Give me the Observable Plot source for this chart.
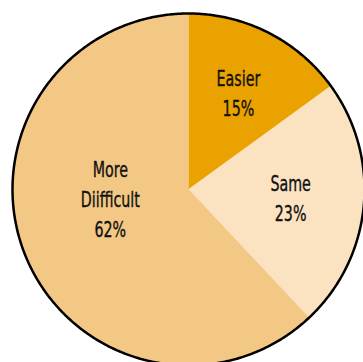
<!DOCTYPE html>
<html>
<head>
<meta charset="utf-8">
<script src="https://cdn.jsdelivr.net/npm/d3@7"></script>
<script src="https://cdn.jsdelivr.net/npm/@observablehq/plot@0.6"></script>
<style>
  html, body { margin: 0; padding: 0; background: #fff; }
  svg { display: block; }
</style>
</head>
<body>
<div id="chart"></div>
<script>
// Data
const categories = ["Easier", "Same", "More\nDiifficult"];
const keys = ["Easier", "Same", "More Difficult"];
const values = [15, 23, 62];
const colors = ["#E9A200", "#FBE3C2", "#F3C784"];

// Layout
const W = 363, H = 362;
const R = 176, cx = 188, cy = 189;
const labelR = 0.6;
const labelShift = {"More Difficult": [20, -31], "Same": [-3, -3], "Easier": [2, -4]};

const total = d3.sum(values);
let acc = 0;
const wedges = [];
const labels = [];
values.forEach((v, i) => {
  const a0 = acc / total * 2 * Math.PI;
  acc += v;
  const a1 = acc / total * 2 * Math.PI;
  const n = Math.max(2, Math.ceil((a1 - a0) / (Math.PI / 360)));
  wedges.push({key: keys[i], x: 0, y: 0});
  for (let k = 0; k <= n; k++) {
    const a = a0 + (a1 - a0) * k / n;
    wedges.push({key: keys[i], x: Math.sin(a), y: Math.cos(a)});
  }
  wedges.push({key: keys[i], x: 0, y: 0});
  const am = (a0 + a1) / 2;
  labels.push({key: keys[i], text: categories[i] + "\n" + v + "%",
               x: labelR * Math.sin(am), y: labelR * Math.cos(am)});
});

const circle = d3.range(0, 721).map(k => {
  const a = k / 720 * 2 * Math.PI;
  return {x: Math.sin(a), y: Math.cos(a)};
});

const plot = Plot.plot({
  width: W, height: H,
  margin: 0,
  x: {domain: [-cx / R, (W - cx) / R], range: [0, W], axis: null},
  y: {domain: [-(H - cy) / R, cy / R], range: [H, 0], axis: null},
  color: {domain: keys, range: colors},
  style: {fontFamily: "'DejaVu Sans Condensed', sans-serif", background: "#fff"},
  marks: [
    Plot.line(wedges, {x: "x", y: "y", z: "key", fill: "key", stroke: "key", strokeWidth: 0.6, curve: "linear"}),
    Plot.line(circle, {x: "x", y: "y", stroke: "#000", strokeWidth: 2.5}),
    ...labels.map(l => Plot.text([l], {x: "x", y: "y", text: "text",
      dx: labelShift[l.key][0], dy: labelShift[l.key][1],
      fontSize: 22, lineHeight: 1.36, fill: "#111", stroke: "#111", strokeWidth: 0.35}))
  ]
});
// horizontally condense label text to mimic a narrow typeface
d3.select(plot).selectAll("text").each(function() {
  const t = this.getAttribute("transform") || "";
  this.setAttribute("transform", t + " scale(0.72,1)");
});
document.getElementById("chart").appendChild(plot);
</script>
</body>
</html>
